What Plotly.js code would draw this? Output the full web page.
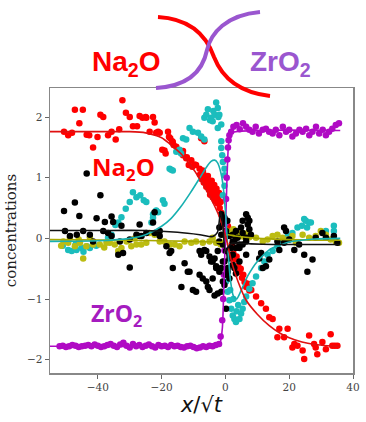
<!DOCTYPE html>
<html><head><meta charset="utf-8">
<script src="https://cdn.plot.ly/plotly-3.0.1.min.js"></script>
<style>html,body{margin:0;padding:0;background:#fff;}#chart{width:366px;height:422px;}</style>
</head><body><div id="chart"></div>
<script>
// ---- data (x/sqrt(t), concentration) ----
const redPts = [[-50.6,1.76],[-49.3,1.70],[-48.1,1.74],[-47.2,2.12],[-45.8,1.90],[-44.7,2.12],[-43.5,1.71],[-42.7,1.70],[-41.5,1.50],[-40.1,1.67],[-39.2,2.04],[-38.3,2.0],[-36.8,1.70],[-35.7,1.76],[-34.4,1.63],[-33.3,1.80],[-32.3,2.28],[-31.2,2.07],[-30,2.0],[-29,1.85],[-27.7,1.85],[-26.9,2.02],[-26,1.99],[-25,2.0],[-24.8,1.99],[-23.75,1.76],[-22.7,2.0],[-22.2,1.91],[-21.7,1.74],[-21.1,1.76],[-20.6,1.74],[-19.8,1.46],[-19.1,1.45],[-18.75,1.40],[-18,1.76],[-17.7,1.67],[-17.3,1.65],[-16.7,1.60],[-16.5,1.59],[-16.25,1.54],[-15.4,1.51],[-13.3,1.44],[-13.3,1.37],[-12.3,1.32],[-12.1,1.34],[-11.5,1.21],[-10.7,1.29],[-10.4,1.18],[-9.7,1.22],[-9.2,1.21],[-8.1,1.15],[-7.6,1.65],[-7.1,1.12],[-7.1,1.09],[-6.6,1.6],
[-8.0,1.05],[-7.5,0.98],[-7.0,1.08],[-6.8,0.92],[-6.4,1.0],[-6.0,0.85],[-5.8,0.95],[-5.5,1.03],[-5.2,0.8],[-5.0,0.9],[-4.8,0.72],[-4.5,0.85],[-4.3,0.95],[-4.0,0.68],[-3.8,0.78],[-3.5,0.88],[-3.3,0.62],[-3.0,0.72],[-2.8,0.82],[-2.5,0.58],[-2.3,0.66],[-2.0,0.75],[-1.8,0.5],[-1.5,0.6],[-1.2,0.42],[-0.8,0.35],[-0.4,0.3],[0.2,0.25],[0.8,0.2],[1.3,0.1],
[2.0,-0.1],[2.5,-0.25],[3.0,-0.35],[3.5,-0.3],[4.0,-0.45],[4.4,-0.55],[4.8,-0.5],[5.2,-0.65],[5.6,-0.6],[6.0,-0.72],[6.5,-0.8],[7.0,-0.75],[7.5,-0.86],[8.1,-0.85],
[9.6,-0.96],[11.2,-1.07],[12.7,-1.16],[13.75,-1.30],[14.8,-1.33],[16.9,-1.49],[19.5,-1.49],[16.3,-1.63],[18.4,-1.63],[21.6,-1.74],[22.6,-1.77],[21,-1.80],[24.2,-1.85],[24.7,-1.99],[26.25,-1.60],[27.8,-1.74],[28.3,-1.80],[28.8,-1.91],[30.4,-1.71],[31.5,-1.83],[33,-1.58],[33.5,-1.77],[35.1,-1.77],[34.3,-1.77]];

const cyanPts = [[-51,-0.12],[-49.3,-0.19],[-48.2,-0.21],[-47,-0.1],[-46.7,-0.19],[-45.1,-0.16],[-44.5,-0.22],[-43.5,-0.13],[-42.5,-0.16],[-41.5,-0.1],[-40.5,-0.12],[-36.8,0.01],[-35.7,0.06],[-34.5,0.22],[-33.6,0.26],[-32.6,0.35],[-31.25,0.49],[-30,0.6],[-29,0.76],[-27.9,0.68],[-26.7,0.71],[-25.6,0.63],[-24.8,0.6],[-23.2,0.26],[-22.7,0.40],[-22.7,0.34],[-21.7,0.46],[-21.7,0.45],[-21.1,0.43],[-19.6,0.63],[-19.1,0.57],[-17.5,1.15],[-17,1.13],[-16.5,1.12],[-15.4,1.43],[-14.4,1.46],[-13.9,1.40],[-13.3,1.65],[-12.3,1.63],[-11.25,1.82],[-10.2,1.76],[-8.6,1.74],[-7.6,1.68],[-6.6,1.63],[-6.6,1.99],[-6.0,2.04],[-5.5,2.13],[-4.8,1.95],[-4.5,1.99],[-4.0,1.93],[-3.8,2.1],[-3.4,2.04],[-2.9,2.24],[-2.4,2.15],[-2.2,2.0],[-1.9,2.04],[-1.3,1.88],[-2.4,1.82],[-1.3,1.60],[-1.3,1.49],[-1.0,1.37],[-0.8,1.26],[-0.3,1.15],[-0.3,1.04],[-0.3,0.87],[-0.8,0.71],
[0.0,0.3],[0.0,-0.2],[0.2,-0.71],[0.7,-0.88],[1.25,-1.02],[1.5,-0.85],[1.8,-1.16],[2.3,-1.27],[2.5,-1.0],[2.8,-1.33],[3.3,-1.38],[3.5,-1.2],[4,-1.1],[4.4,-1.33],[4.9,-1.24],[5.4,-1.16],[5.9,-1.05],[6.5,-0.96],[7.5,-0.83],[8.5,-0.74],[9.6,-0.63],[11.2,-0.49],[12.2,-0.38],[13.2,-0.27],[14.8,-0.21],[16.3,-0.13],[17.9,-0.05],[19.5,0.04],[21,0.09],[22.6,0.18],[24,0.21],[24.7,0.32],[25.2,0.29],[25.6,0.18],[26.25,0.26],[26.8,0.26],[31.5,0.12],[34,0.12],[34,0.21]];

const yellowPts = [[-51.5,-0.12],[-50.8,-0.05],[-49.3,-0.07],[-48.75,0.01],[-47.2,-0.13],[-46,-0.02],[-45.6,-0.07],[-44.6,-0.33],[-43.6,-0.13],[-42.5,0.02],[-41.5,-0.10],[-39.4,-0.10],[-38,-0.15],[-37.3,-0.07],[-36.25,-0.07],[-34.7,-0.10],[-33.6,-0.21],[-32.6,-0.16],[-31,-0.05],[-29.5,-0.13],[-28.5,0.0],[-27.9,-0.10],[-26.4,-0.10],[-24.8,-0.07],[-23.75,0.09],[-22.2,0.06],[-20.6,-0.05],[-19.1,-0.05],[-17.5,-0.1],[-15.9,-0.1],[-14.4,-0.13],[-12.8,-0.05],[-10.7,-0.07],[-9.2,-0.05],[-7.1,-0.07],[-5,-0.05],[-4,0.01],[-2.9,-0.07],[-1.5,-0.1],[-0.5,0.05],[0.5,0.12],[1.5,0.08],[2.5,0.15],[3.5,0.06],[4.5,0.1],[5.5,0.03],[6.5,0.08],[7.5,0.02],[9.6,0.01],[11.7,-0.05],[13.2,-0.02],[14.8,0.04],[16.3,0.06],[17.9,0.01],[19.5,-0.02],[21,0.04],[22.1,-0.07],[24.2,0.06],[26.25,0.01],[28.3,0.04],[29.9,0.12],[31.5,0.06],[33,-0.02],[34.6,-0.05],[35.6,-0.07]];

const magentaX = [-52,-51,-50,-49,-48,-47,-46,-45,-44,-43,-42,-41,-40,-39,-38,-37,-36,-35,-34,-33,-32,-31,-30,-29,-28,-27,-26,-25,-24,-23,-22,-21,-20,-19,-18,-17,-16,-15,-14,-13,-12,-11,-10,-9,-8,-7,-6,-5,-4,-3,-2,
 -1.5,-1.0,-0.7,-0.5,-0.3,0.0,0.2,0.4,0.6,0.8,1.0,1.25,1.8,2.5,3.5,4.5,5.5,6.5,7.5,8.5,9.5,10.5,11.7,12.7,13.7,14.8,15.8,16.9,18,19,20,21,22.1,23.2,24.2,25.3,26.3,27.3,28.4,29.4,30.5,31.5,32.5,33.5,34.6,35.6];
const magentaY = [-1.78,-1.77,-1.79,-1.78,-1.76,-1.77,-1.79,-1.78,-1.77,-1.76,-1.78,-1.75,-1.77,-1.79,-1.78,-1.76,-1.74,-1.77,-1.79,-1.75,-1.72,-1.77,-1.80,-1.74,-1.78,-1.76,-1.79,-1.77,-1.75,-1.78,-1.80,-1.76,-1.78,-1.77,-1.79,-1.76,-1.78,-1.77,-1.79,-1.80,-1.78,-1.77,-1.79,-1.81,-1.80,-1.78,-1.79,-1.77,-1.78,-1.76,-1.74,
 -1.62,-1.35,-1.0,-0.6,-0.2,0.25,0.65,1.0,1.3,1.5,1.62,1.70,1.76,1.84,1.87,1.80,1.90,1.84,1.79,1.76,1.84,1.73,1.79,1.81,1.76,1.73,1.79,1.70,1.84,1.76,1.79,1.68,1.73,1.79,1.76,1.81,1.70,1.76,1.84,1.73,1.79,1.70,1.76,1.81,1.87,1.90];

const blackPts = [[-43.5,1.07],[-39.2,0.71],[-47.2,0.59],[-50.6,0.45],[-45.8,0.37],[-40.4,0.33],[-37.8,0.27],[-35.7,0.36],[-35.2,0.27],[-32.6,0.21],
[-50.3,0.12],[-48.75,0.04],[-46.6,0.06],[-44.6,0.12],[-42.5,0.06],[-41.5,-0.05],[-38.3,0.12],[-36.8,0.09],[-35.7,0.04],[-33.6,-0.27],[-32.1,-0.24],[-30,-0.48],[-33.1,-0.05],[-30,-0.02],[-27.9,0.06],[-26.3,0.04],[-24.8,0.09],[-26.9,0.04],[-22.2,0.09],[-20.6,0.12],
[-22.2,0.43],[-22.7,0.26],[-26.9,0.23],
[-20.6,0.04],[-18.5,-0.13],[-17,-0.21],[-17.5,-0.24],[-16.5,-0.49],[-13.8,-0.80],[-12.8,-0.41],[-11.8,-0.55],[-11.25,-0.55],[-10.2,-0.85],[-9.2,-0.88],[-8.1,-0.21],[-7.6,-0.27],[-6.6,-0.19],[-8.1,-0.60],[-7.1,-0.66],[-6.0,-0.71],[-5.5,-0.80],[-5.0,-0.85],[-4.0,-0.66],[-3.4,-0.94],[-4.5,-0.38],[-3.4,-0.33],[-2.4,-0.21],[-1.9,-0.05],[-1.3,0.06],[-2.9,-0.49],[-1.9,-0.55],[-0.8,-0.38],[-0.8,-0.71],[-0.3,-0.77],[0.2,-0.60],[0.7,-0.49],[1.25,-0.27],[1.8,-0.16],[2.3,-0.05],[3.3,0.01],[4.4,-0.16],[5.4,-0.10],[6.5,-0.05],[6.5,-0.27],[4.4,-0.38],[2.8,-0.49],[0.2,-1.16],[-1.3,-0.88],[-2.4,-0.91],
[-1.3,0.40],[-0.8,0.31],[6.5,0.40],[7.0,0.34],[5.4,0.29],[7.5,0.29],[18.4,0.18],
[-1.9,0.18],[-0.8,0.23],[0.2,0.12],[1.25,0.04],[2.3,0.06],[3.3,0.12],[3.8,0.01],[4.4,-0.1],[4.9,0.18],[5.4,0.09],[6.5,0.01],[7.0,0.23],[7.5,0.15],[8.0,0.06],[-0.8,-0.1],[0.2,-0.21],[1.25,-0.33],[2.3,-0.44],[3.3,-0.58],[1.25,-0.66],[0.7,-0.55],[2.3,-0.27],[3.3,-0.16],[2.8,-0.05],[-0.3,-0.38],[-1.3,-0.49],[-2.9,-0.46],[-4,-0.38],[-5,-0.3],[-6,-0.21],[-0.3,0.34],[0.6,0.29],
[19,0.12],[21.6,-0.19],[23.1,-0.10],[24.7,-0.27],[25.7,-0.55],[27.3,-0.35],[28.3,0.01],[30.4,0.09],[31.5,0.01],[34,0.04],[35.1,-0.07],[18.4,-0.07],[16.9,-0.19],[16.3,-0.05],[20,-0.02],[13.75,-0.35],[12.7,-0.46],[11.7,-0.49],[10.6,-0.33],[11.2,-0.24]];

// fitted curves
const redLineX = [-55,-40,-30,-25,-20,-17.5,-14,-11,-8,-6,-4,-2,0,2,4,6.5,10,13.75,17,20,24,28,32,36];
const redLineY = [1.76,1.76,1.76,1.74,1.66,1.56,1.4,1.21,0.98,0.8,0.6,0.37,0.05,-0.4,-0.72,-1.02,-1.25,-1.44,-1.56,-1.64,-1.71,-1.75,-1.77,-1.78];
const cyanLineX = [-55,-40,-30,-25,-20,-17,-14,-11,-8,-6,-4.5,-3.4,-2.5,-1.5,-0.8,0,0.8,1.6,2.5,3.5,5,7,10,14,20,28,36];
const cyanLineY = [-0.05,-0.04,0.0,0.06,0.2,0.33,0.52,0.75,1.0,1.17,1.27,1.29,1.25,1.1,0.9,0.45,-0.2,-0.7,-0.95,-1.0,-0.85,-0.62,-0.38,-0.18,-0.06,-0.01,0.0];
const blackLineX = [-55,-40,-25,-15,-8,-4,-2.5,-1.5,-0.8,0,0.8,2,4,8,15,25,36];
const blackLineY = [0.13,0.13,0.13,0.1,0.06,0.03,0.1,0.45,0.2,-0.25,-0.15,-0.08,-0.08,-0.09,-0.1,-0.1,-0.1];
const yellowLineX = [-55,-30,-10,-3,-1,0,1,3,10,20,36];
const yellowLineY = [-0.02,-0.03,-0.05,-0.06,-0.06,0.05,0.06,0.04,0.0,-0.02,-0.03];
const magentaLineX = [-55,-10,-2,-1,-0.5,0,0.5,1,2,10,36];
const magentaLineY = [-1.78,-1.78,-1.76,-1.5,-0.8,0.1,1.0,1.55,1.74,1.78,1.78];

const xTicks = [-40,-20,0,20,40];
const yTicks = [-2,-1,0,1,2];

// ---- styling ----
const C = {red:'#ff0000', cyan:'#1bbdbd', yellow:'#bcbc12', magenta:'#b00ac4', black:'#000000'};
function pts(arr, color){
  return {type:'scatter', mode:'markers', x:arr.map(p=>p[0]), y:arr.map(p=>p[1]),
    marker:{color:color, size:6.5, line:{width:0}}, hoverinfo:'skip', showlegend:false};
}
function line(x,y,color){
  return {type:'scatter', mode:'lines', x:x, y:y, line:{color:color, width:1.6, shape:'spline', smoothing:0.6}, hoverinfo:'skip', showlegend:false};
}
const traces = [
  pts(redPts, C.red),
  pts(cyanPts, C.cyan),
  pts(yellowPts, C.yellow),
  {type:'scatter', mode:'markers', x:magentaX, y:magentaY, marker:{color:C.magenta, size:6.5}, hoverinfo:'skip', showlegend:false},
  pts(blackPts, C.black),
  line(yellowLineX, yellowLineY, '#a8a800'),
  line(magentaLineX, magentaLineY, C.magenta),
  line(cyanLineX, cyanLineY, '#17b0b0'),
  line(redLineX, redLineY, '#e01010'),
  line(blackLineX, blackLineY, '#111111')
];

// plot area in pixels: left 50, right 353, top 88, bottom 373
const L=50, R=353, T=88, B=373;
function px(x){return (x-L)/(R-L);}
function py(y){return (B-y)/(B-T);}
function P(x,y){return px(x).toFixed(4)+','+py(y).toFixed(4);}

const redArc = 'M'+P(158,17)+' C'+P(195,19)+' '+P(208,40)+' '+P(214,57)+' C'+P(221,75)+' '+P(236,92)+' '+P(270,96);
const purpleArc = 'M'+P(260,12)+' C'+P(226,15)+' '+P(211,33)+' '+P(207,50)+' C'+P(203,70)+' '+P(190,86)+' '+P(156,88);

const sansBold = '"Liberation Sans", Arial, sans-serif';
function label(x, y, text, family, size, color){
  return {xref:'paper', yref:'paper', x:px(x), y:py(y), xanchor:'center', yanchor:'middle',
    text:text, showarrow:false, font:{family:family, size:size, color:color}};
}
const layout = {
  width:366, height:422,
  margin:{l:L, r:366-R, t:T, b:422-B},
  paper_bgcolor:'#ffffff', plot_bgcolor:'#ffffff',
  font:{family:'"DejaVu Serif", serif', color:'#333'},
  xaxis:{range:[-55,40], tickvals:xTicks, ticktext:xTicks.map(v=>v<0?'\u2212'+(-v):String(v)),
    showgrid:false, zeroline:false, showline:true, mirror:true, linecolor:'#888', linewidth:1.5,
    ticks:'outside', ticklen:4, tickcolor:'#666', tickfont:{family:'"DejaVu Serif", serif', size:10.5, color:'#444'},
    title:{text:'<i>x</i>/√<i>t</i>', font:{family:'"DejaVu Sans", sans-serif', size:21, color:'#111'}, standoff:4}},
  yaxis:{range:[-2.22,2.48], tickvals:yTicks, ticktext:yTicks.map(v=>v<0?'\u2212'+(-v):String(v)),
    showgrid:false, zeroline:false, showline:true, mirror:true, linecolor:'#888', linewidth:1.5,
    ticks:'outside', ticklen:4, tickcolor:'#666', tickfont:{family:'"DejaVu Serif", serif', size:10.5, color:'#444'},
    title:{text:'concentrations', font:{family:'"DejaVu Serif", serif', size:15, color:'#222'}, standoff:6}},
  shapes:[
    {type:'path', xref:'paper', yref:'paper', path:redArc, line:{color:'#ff0000', width:4}, layer:'above'},
    {type:'path', xref:'paper', yref:'paper', path:purpleArc, line:{color:'#9a56cf', width:4}, layer:'above'}
  ],
  annotations:[
    label(126, 64, '<b>Na<sub>2</sub>O</b>', sansBold, 28, '#ff0000'),
    label(280, 64, '<b>ZrO<sub>2</sub></b>', sansBold, 28, '#9a56cf'),
    label(123, 168, '<b>Na<sub>2</sub>O</b>', '"Open Sans", sans-serif', 24, '#ff0000'),
    label(116, 314, '<b>ZrO<sub>2</sub></b>', '"Open Sans", sans-serif', 23, '#a51cbf')
  ]
};
Plotly.newPlot('chart', traces, layout, {staticPlot:true, displayModeBar:false});
</script>
</body></html>
